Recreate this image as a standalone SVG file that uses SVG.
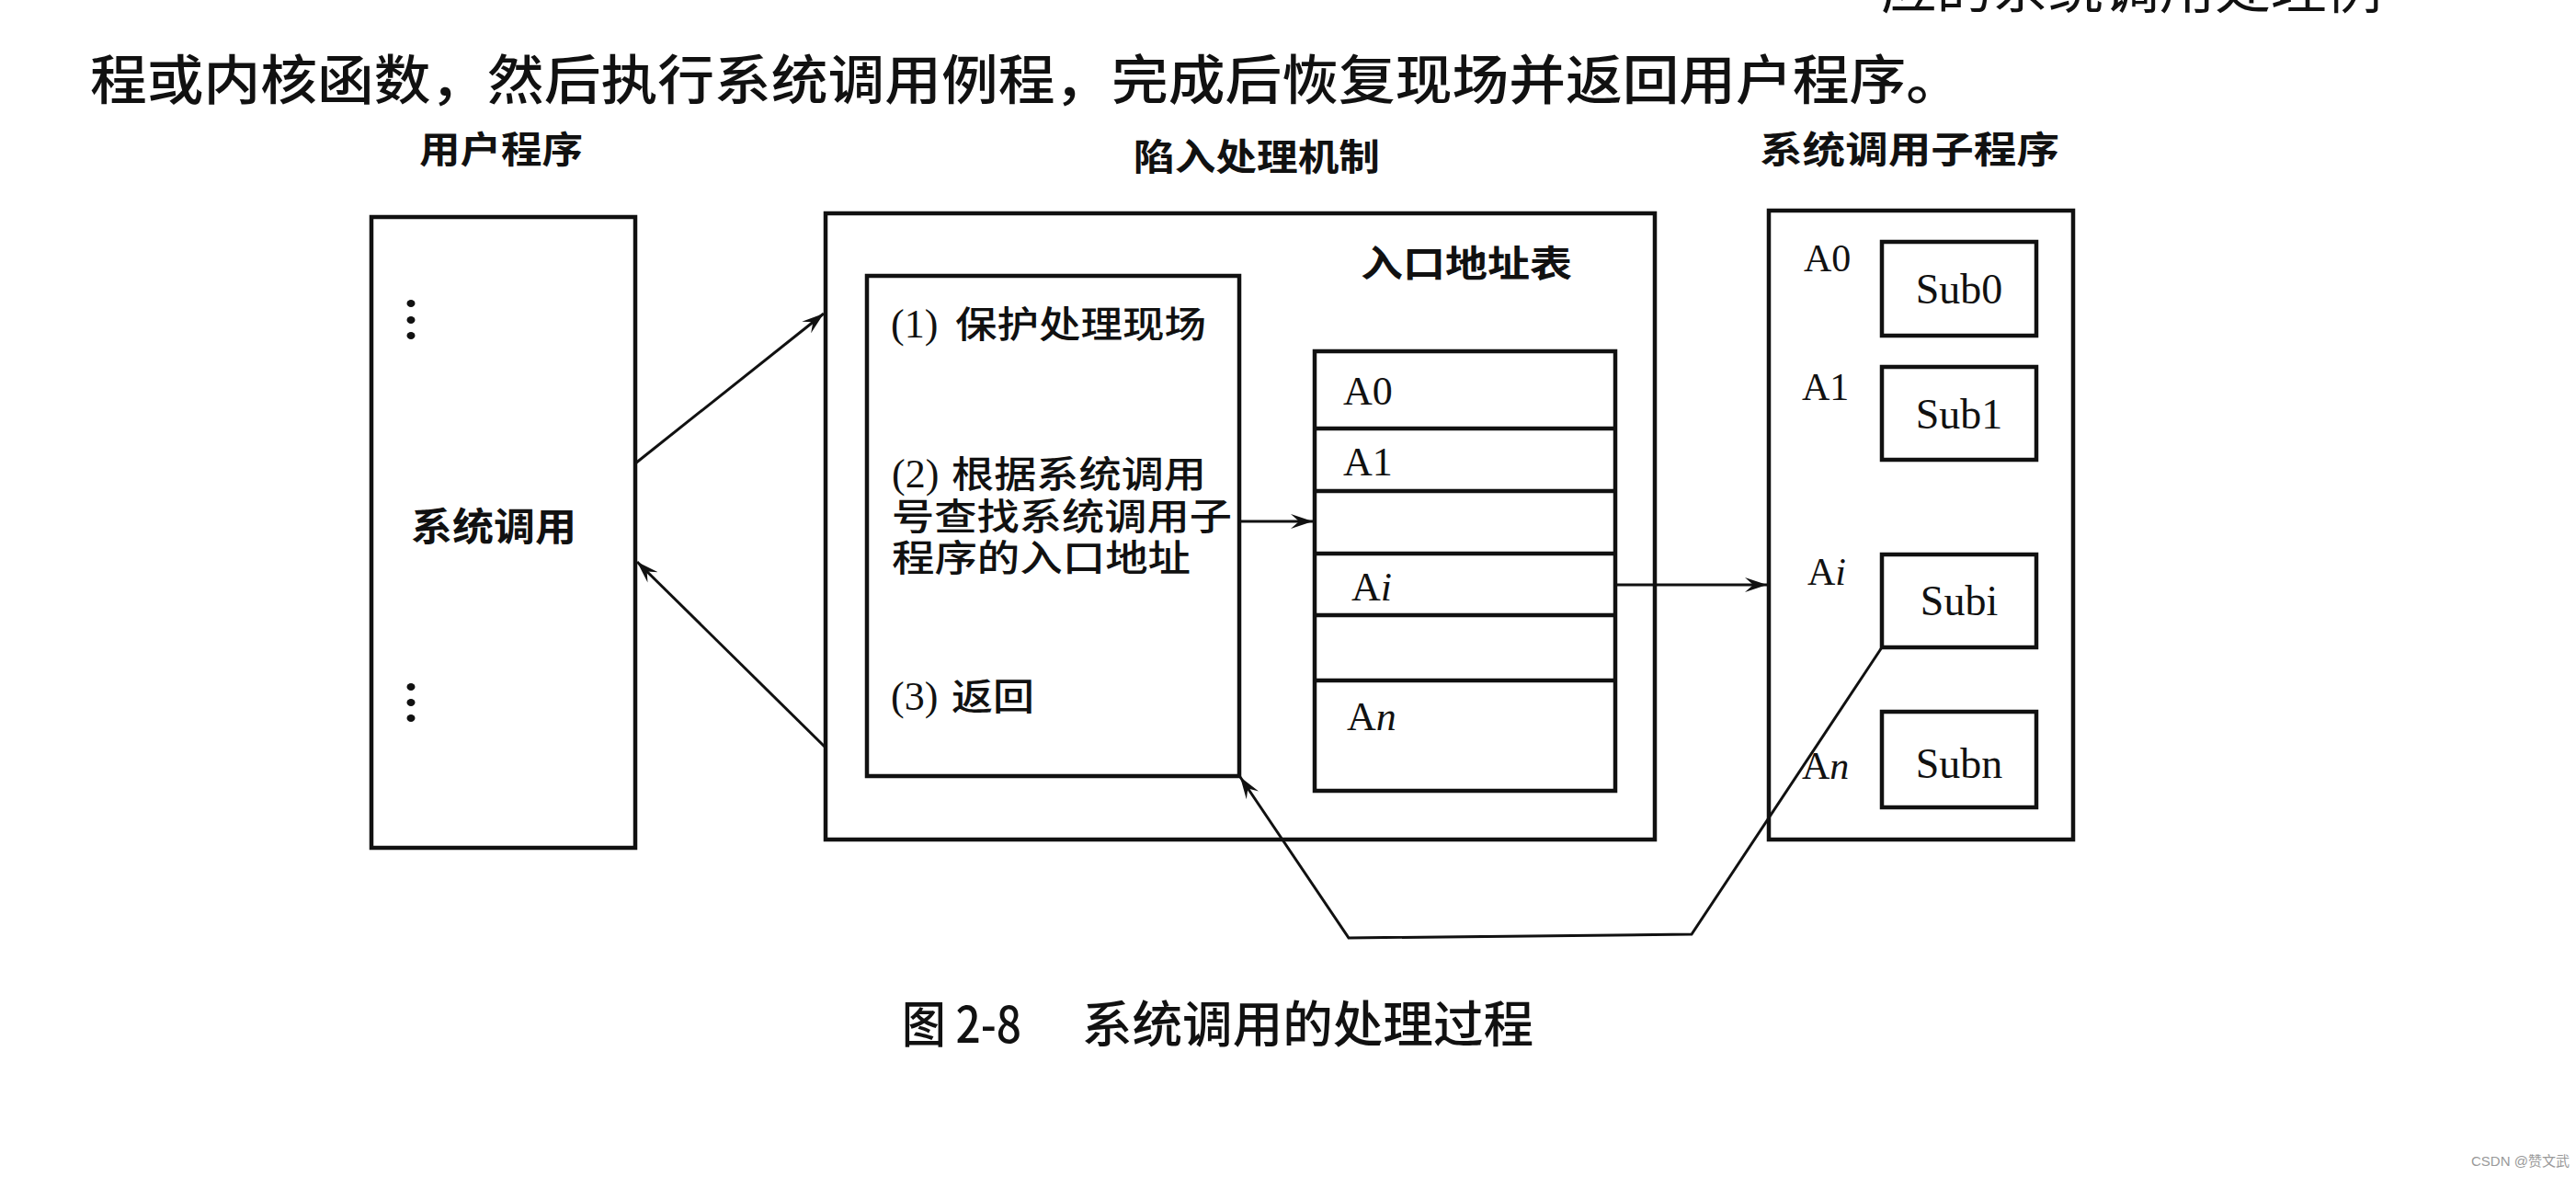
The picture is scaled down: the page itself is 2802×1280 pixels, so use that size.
<svg xmlns="http://www.w3.org/2000/svg" width="2802" height="1280" viewBox="0 0 2802 1280">
<style>
.box{fill:none;stroke:#111;stroke-width:4.5}
.ln{fill:none;stroke:#111;stroke-width:3}
.cjk{font-family:"Noto Sans CJK SC","Noto Sans",sans-serif;fill:#111}
.m{font-weight:500}
.b{font-weight:bold}
.ser{font-family:"Liberation Serif",serif;fill:#111}
.it{font-style:italic}
</style>
<defs>
<marker id="arr" viewBox="-24 -9 26 18" refX="0" refY="0" markerWidth="26" markerHeight="18" markerUnits="userSpaceOnUse" orient="auto">
<path d="M0,0 L-24,-8 L-15,0 L-24,8 Z" fill="#111"/>
</marker>
</defs>
<rect width="2802" height="1280" fill="#fff"/>

<g id="page-text">
<text class="cjk" x="2046" y="9" font-size="58" textLength="545" lengthAdjust="spacingAndGlyphs">应的系统调用处理例</text>
<text class="cjk m" x="98" y="108" font-size="58" textLength="2037" lengthAdjust="spacingAndGlyphs">程或内核函数，然后执行系统调用例程，完成后恢复现场并返回用户程序。</text>
</g>

<g id="user-program">
<text class="cjk b" x="456" y="177" font-size="40" textLength="178" lengthAdjust="spacingAndGlyphs">用户程序</text>
<rect class="box" x="404" y="236" width="287" height="686"/>
<ellipse cx="447" cy="330" rx="4.5" ry="4" fill="#111"/>
<ellipse cx="447" cy="348" rx="4.5" ry="4" fill="#111"/>
<ellipse cx="447" cy="365" rx="4.5" ry="4" fill="#111"/>
<ellipse cx="447" cy="747" rx="4.5" ry="4" fill="#111"/>
<ellipse cx="447" cy="764" rx="4.5" ry="4" fill="#111"/>
<ellipse cx="447" cy="781" rx="4.5" ry="4" fill="#111"/>
<text class="cjk b" x="447" y="588" font-size="42" textLength="180" lengthAdjust="spacingAndGlyphs">系统调用</text>
</g>

<g id="trap-mechanism">
<text class="cjk b" x="1233" y="185" font-size="40" textLength="268" lengthAdjust="spacingAndGlyphs">陷入处理机制</text>
<rect class="box" x="898" y="232" width="902" height="681"/>
<text class="cjk b" x="1480" y="301" font-size="40" textLength="230" lengthAdjust="spacingAndGlyphs">入口地址表</text>
</g>

<g id="steps">
<rect class="box" x="943" y="300" width="405" height="544"/>
<text class="ser" x="969" y="367" font-size="44">(1)</text>
<text class="cjk m" x="1039" y="367" font-size="40" textLength="273" lengthAdjust="spacingAndGlyphs">保护处理现场</text>
<text class="ser" x="970" y="530" font-size="44">(2)</text>
<text class="cjk m" x="1035" y="530" font-size="40" textLength="277" lengthAdjust="spacingAndGlyphs">根据系统调用</text>
<text class="cjk m" x="970" y="576" font-size="40" textLength="370" lengthAdjust="spacingAndGlyphs">号查找系统调用子</text>
<text class="cjk m" x="970" y="621" font-size="40" textLength="325" lengthAdjust="spacingAndGlyphs">程序的入口地址</text>
<text class="ser" x="969" y="772" font-size="44">(3)</text>
<text class="cjk m" x="1035" y="772" font-size="40" textLength="90" lengthAdjust="spacingAndGlyphs">返回</text>
</g>

<g id="entry-table">
<rect class="box" x="1430" y="382" width="327" height="478"/>
<line class="box" x1="1430" y1="466" x2="1757" y2="466"/>
<line class="box" x1="1430" y1="534" x2="1757" y2="534"/>
<line class="box" x1="1430" y1="602" x2="1757" y2="602"/>
<line class="box" x1="1430" y1="669" x2="1757" y2="669"/>
<line class="box" x1="1430" y1="740" x2="1757" y2="740"/>
<text class="ser" x="1461" y="440" font-size="44">A0</text>
<text class="ser" x="1461" y="517" font-size="44">A1</text>
<text class="ser" x="1470" y="653" font-size="44">A<tspan class="it">i</tspan></text>
<text class="ser" x="1465" y="794" font-size="44">A<tspan class="it">n</tspan></text>
</g>

<g id="subroutines">
<text class="cjk b" x="1914" y="177" font-size="40" textLength="326" lengthAdjust="spacingAndGlyphs">系统调用子程序</text>
<rect class="box" x="1924" y="229" width="331" height="684"/>
<text class="ser" x="1962" y="295" font-size="42">A0</text>
<text class="ser" x="1960" y="435" font-size="42">A1</text>
<text class="ser" x="1966" y="636" font-size="42">A<tspan class="it">i</tspan></text>
<text class="ser" x="1960" y="847" font-size="42">A<tspan class="it">n</tspan></text>
<g id="sub0"><rect class="box" x="2047" y="263" width="168" height="102"/><text class="ser" x="2131" y="330" font-size="46" text-anchor="middle">Sub0</text></g>
<g id="sub1"><rect class="box" x="2047" y="399" width="168" height="101"/><text class="ser" x="2131" y="466" font-size="46" text-anchor="middle">Sub1</text></g>
<g id="subi"><rect class="box" x="2047" y="603" width="168" height="101"/><text class="ser" x="2131" y="669" font-size="46" text-anchor="middle">Subi</text></g>
<g id="subn"><rect class="box" x="2047" y="774" width="168" height="104"/><text class="ser" x="2131" y="846" font-size="46" text-anchor="middle">Subn</text></g>
</g>

<g id="connectors">
<line class="ln" x1="691" y1="504" x2="896" y2="341" marker-end="url(#arr)"/>
<line class="ln" x1="898" y1="813" x2="693" y2="611" marker-end="url(#arr)"/>
<line class="ln" x1="1348" y1="567" x2="1428" y2="567" marker-end="url(#arr)"/>
<line class="ln" x1="1757" y1="636" x2="1922" y2="636" marker-end="url(#arr)"/>
<polyline class="ln" points="2047,704 1840,1016 1467,1020 1349,845" marker-end="url(#arr)"/>
</g>

<g id="caption">
<text class="cjk m" x="981" y="1134" font-size="54" textLength="130" lengthAdjust="spacingAndGlyphs">图 2-8</text>
<text class="cjk m" x="1177" y="1134" font-size="54" textLength="491" lengthAdjust="spacingAndGlyphs">系统调用的处理过程</text>
</g>

<text x="2688" y="1268" font-family="Liberation Sans, Noto Sans CJK SC, sans-serif" font-size="15" fill="#999">CSDN @赞文武</text>
</svg>
